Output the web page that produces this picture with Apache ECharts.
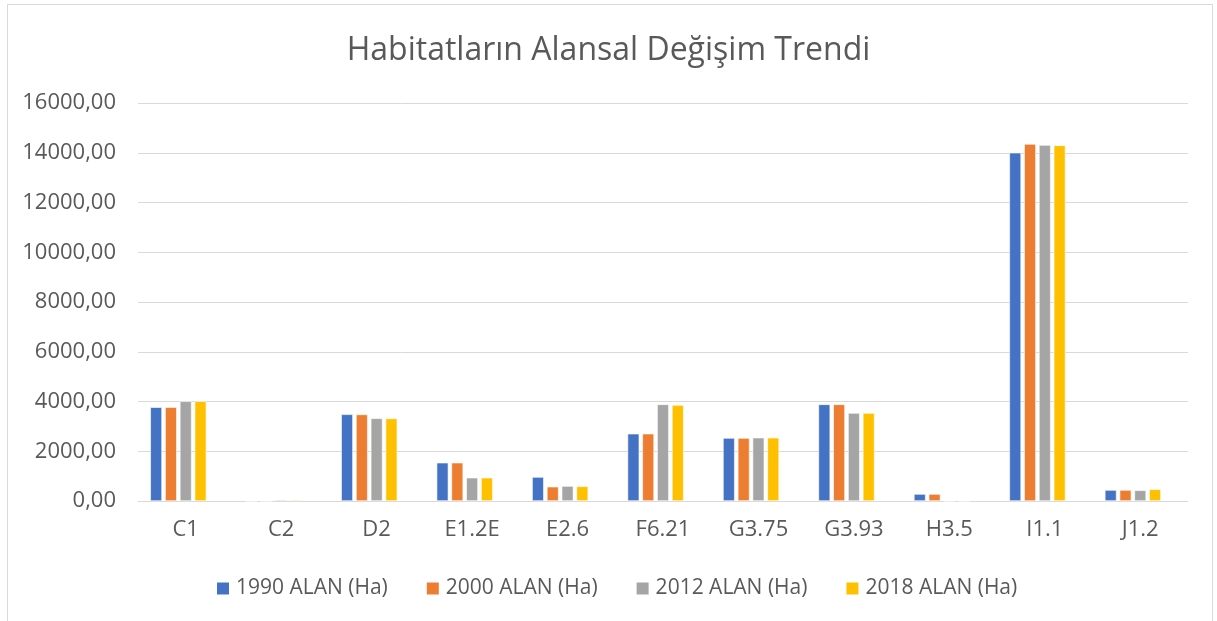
<!DOCTYPE html>
<html><head><meta charset="utf-8">
<script src="https://cdn.jsdelivr.net/npm/echarts@6/dist/echarts.min.js"></script>
<style>html,body{margin:0;padding:0;background:#fff}#c{width:1217px;height:621px}</style>
</head><body><div id="c"></div>
<script>
const categories = ['C1','C2','D2','E1.2E','E2.6','F6.21','G3.75','G3.93','H3.5','I1.1','J1.2'];
const seriesNames = ['1990 ALAN (Ha)','2000 ALAN (Ha)','2012 ALAN (Ha)','2018 ALAN (Ha)'];
const v1990 = [3770, 0, 3485, 1540, 965, 2706, 2533, 3886, 281, 14002, 442];
const v2000 = [3770, 0, 3480, 1540, 575, 2706, 2533, 3886, 281, 14352, 442];
const v2012 = [4010, 50, 3325, 937, 603, 3886, 2546, 3537, 0, 14311, 430];
const v2018 = [4010, 45, 3320, 937, 590, 3859, 2546, 3537, 0, 14298, 470];
// the source chart reserves a slot for a fifth (empty, hidden) series
const hiddenSlot = [null, null, null, null, null, null, null, null, null, null, null];
const yTicks = ['0,00','2000,00','4000,00','6000,00','8000,00','10000,00','12000,00','14000,00','16000,00'];
const colors = ['#4472C4','#ED7D31','#A5A5A5','#FFC000'];
const font = '"Open Sans", "Noto Sans", sans-serif';
const data = [v1990, v2000, v2012, v2018];
const chart = echarts.init(document.getElementById('c'));
const series = seriesNames.map((n,i)=>({name:n,type:'bar',data:data[i],
    barGap:'26%',barCategoryGap:'25.7%',
    itemStyle:{color:colors[i],borderColor:'#fff',borderWidth:0.6}}));
series.push({name:'_hidden',type:'bar',data:hiddenSlot,barGap:'26%',barCategoryGap:'25.7%',itemStyle:{color:'transparent'}});
chart.setOption({
  animation:false,
  color: colors,
  graphic:[{type:'rect',shape:{x:7.5,y:4.5,width:1205,height:640},style:{fill:'none',stroke:'#d9d9d9',lineWidth:1},silent:true}],
  title:{text:'Habitatların Alansal Değişim Trendi',left:'center',top:30,textStyle:{fontFamily:font,fontSize:32,fontWeight:'normal',color:'#595959'}},
  legend:{top:573,left:210,itemWidth:14,itemHeight:14,itemGap:37,icon:'rect',
    textStyle:{fontFamily:font,fontSize:21,color:'#595959',padding:[0,0,0,1]},data:seriesNames},
  grid:{left:138,right:29,top:103,bottom:120},
  xAxis:{type:'category',data:categories,
    axisLine:{lineStyle:{color:'#d9d9d9',width:1}},axisTick:{show:false},
    axisLabel:{fontFamily:font,fontSize:22,color:'#595959',margin:18}},
  yAxis:{type:'value',min:0,max:16000,interval:2000,
    axisLine:{show:false},axisTick:{show:false},
    splitLine:{lineStyle:{color:'#d9d9d9',width:1}},
    axisLabel:{fontFamily:font,fontSize:22,color:'#595959',margin:22,
      formatter:(v)=>yTicks[Math.round(v/2000)]}},
  series: series
});
</script></body></html>
